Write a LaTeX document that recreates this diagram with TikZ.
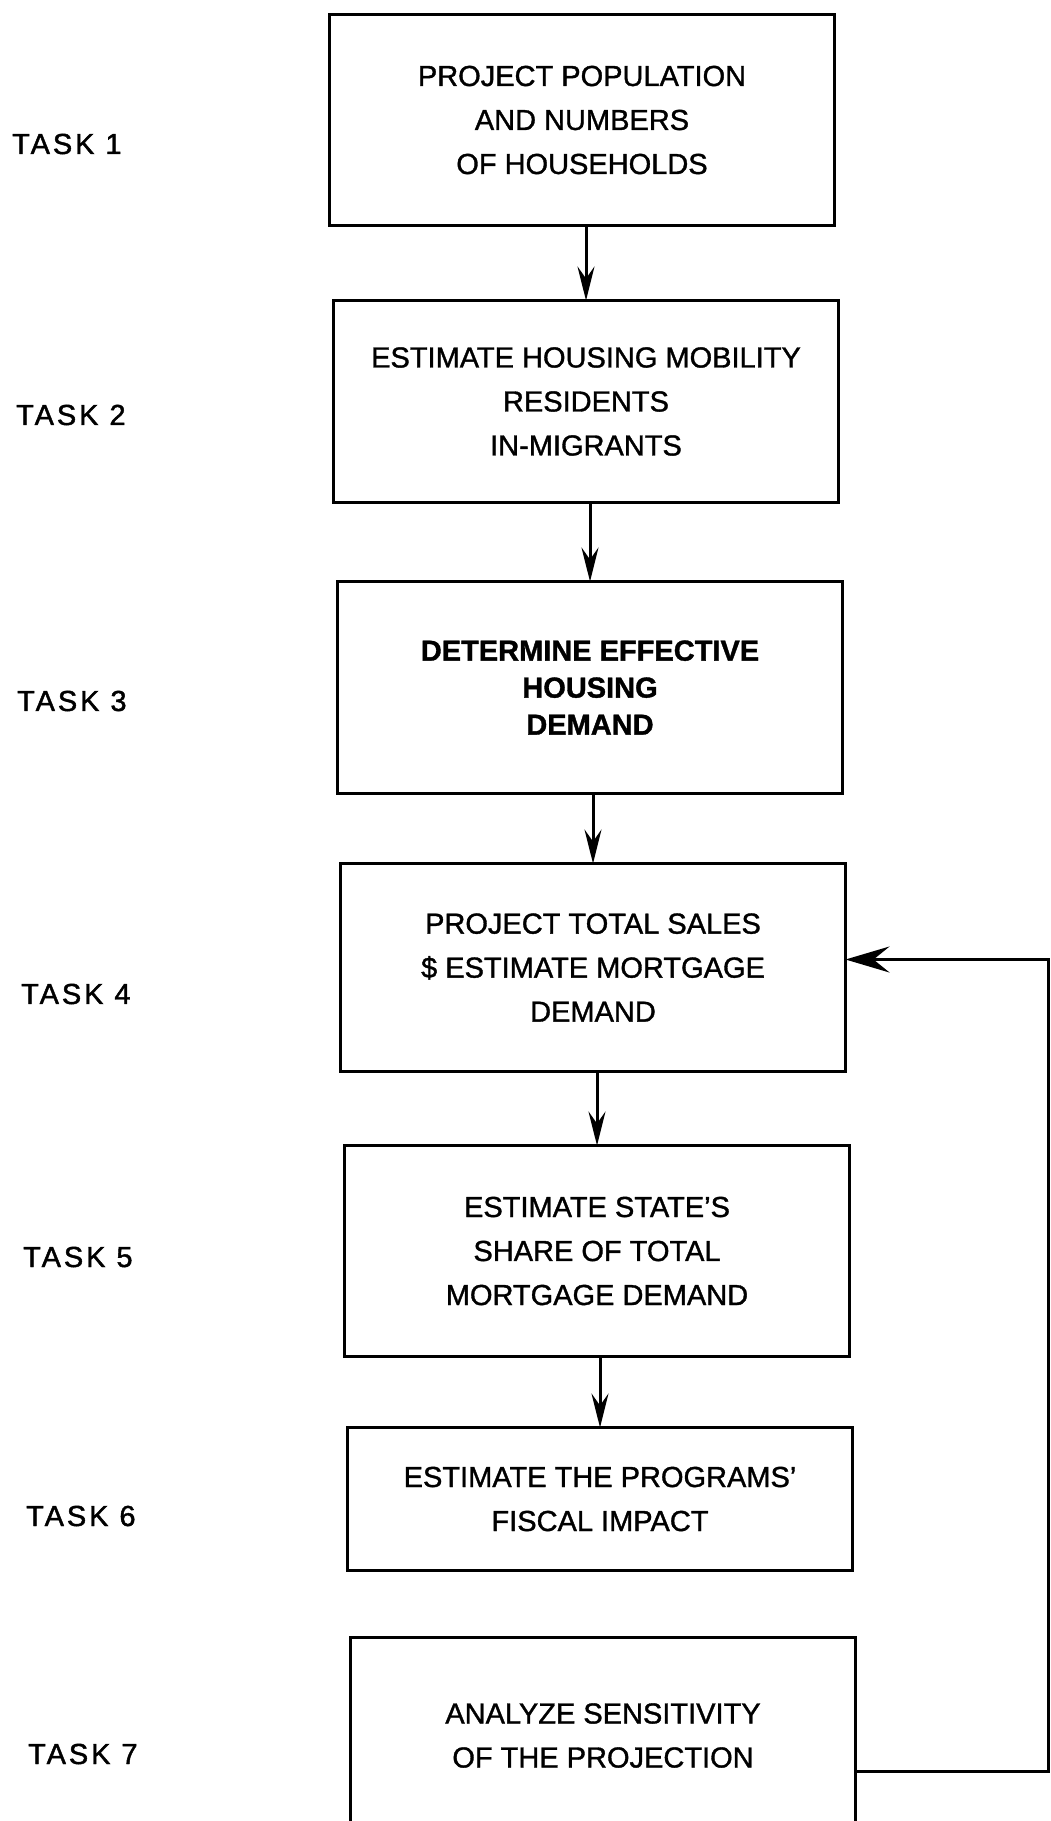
\documentclass[tikz,border=0pt]{standalone}
\usepackage{fontspec}
\setmainfont[FakeBold=1.2]{Liberation Sans}
\newfontfamily\taskfont[LetterSpace=10, FakeBold=1.5]{Liberation Sans}
\usetikzlibrary{arrows.meta, positioning, calc}

\begin{document}
\begin{tikzpicture}[
    x=1pt, y=-1pt,
    stepbox/.style={rectangle, draw, line width=3.5pt, outer sep=0pt, minimum width=505pt, inner sep=0pt, align=center, font=\fontsize{29}{44}\selectfont},
    tasklbl/.style={anchor=west, inner sep=0pt, font=\taskfont\fontsize{29}{34}\selectfont},
    arrow/.style={-{Stealth[length=34pt, width=17pt, inset=12pt]}, line width=3pt}
]
    \useasboundingbox (0,0) rectangle (1051,1821);
    \clip (0,0) rectangle (1051,1821);

    % Task boxes
    \node[stepbox, minimum height=211pt] (box1) at (582,120) {PROJECT POPULATION\\AND NUMBERS\\OF HOUSEHOLDS};
    \node[stepbox, minimum height=202pt, below=75pt of box1, xshift=4pt] (box2) {ESTIMATE HOUSING MOBILITY\\RESIDENTS\\IN-MIGRANTS};
    \node[stepbox, minimum height=212pt, below=79pt of box2, xshift=4pt, font=\bfseries\fontsize{29}{37}\selectfont] (box3) {DETERMINE EFFECTIVE\\HOUSING\\DEMAND};
    \node[stepbox, minimum height=208pt, below=70pt of box3, xshift=3pt] (box4) {PROJECT TOTAL SALES\\\$ ESTIMATE MORTGAGE\\DEMAND};
    \node[stepbox, minimum height=211pt, below=74pt of box4, xshift=4pt] (box5) {ESTIMATE STATE'S\\SHARE OF TOTAL\\MORTGAGE DEMAND};
    \node[stepbox, minimum height=143pt, below=71pt of box5, xshift=3pt] (box6) {ESTIMATE THE PROGRAMS'\\FISCAL IMPACT};
    \node[stepbox, minimum height=196pt, below=67pt of box6, xshift=3pt] (box7) {ANALYZE SENSITIVITY\\OF THE PROJECTION};

    % Task labels
    \node[tasklbl] (task1) at (12,144) {TASK 1};
    \node[tasklbl] (task2) at (16,415) {TASK 2};
    \node[tasklbl] (task3) at (17,701) {TASK 3};
    \node[tasklbl] (task4) at (21,994) {TASK 4};
    \node[tasklbl] (task5) at (23,1257) {TASK 5};
    \node[tasklbl] (task6) at (26,1516) {TASK 6};
    \node[tasklbl] (task7) at (28,1754) {TASK 7};

    % Arrows
    \draw[arrow] (box1.south -| box2) -- (box2);
    \draw[arrow] (box2.south -| box3) -- (box3);
    \draw[arrow] (box3.south -| box4) -- (box4);
    \draw[arrow] (box4.south -| box5) -- (box5);
    \draw[arrow] (box5.south -| box6) -- (box6);

    % Feedback loop
    \coordinate (loop) at (1048,1771);
    \draw[arrow, -{Stealth[length=44pt, width=26pt, inset=16pt]}] (box7.east |- loop) -- (loop) |- ([yshift=8pt]box4.east);
\end{tikzpicture}
\end{document}
